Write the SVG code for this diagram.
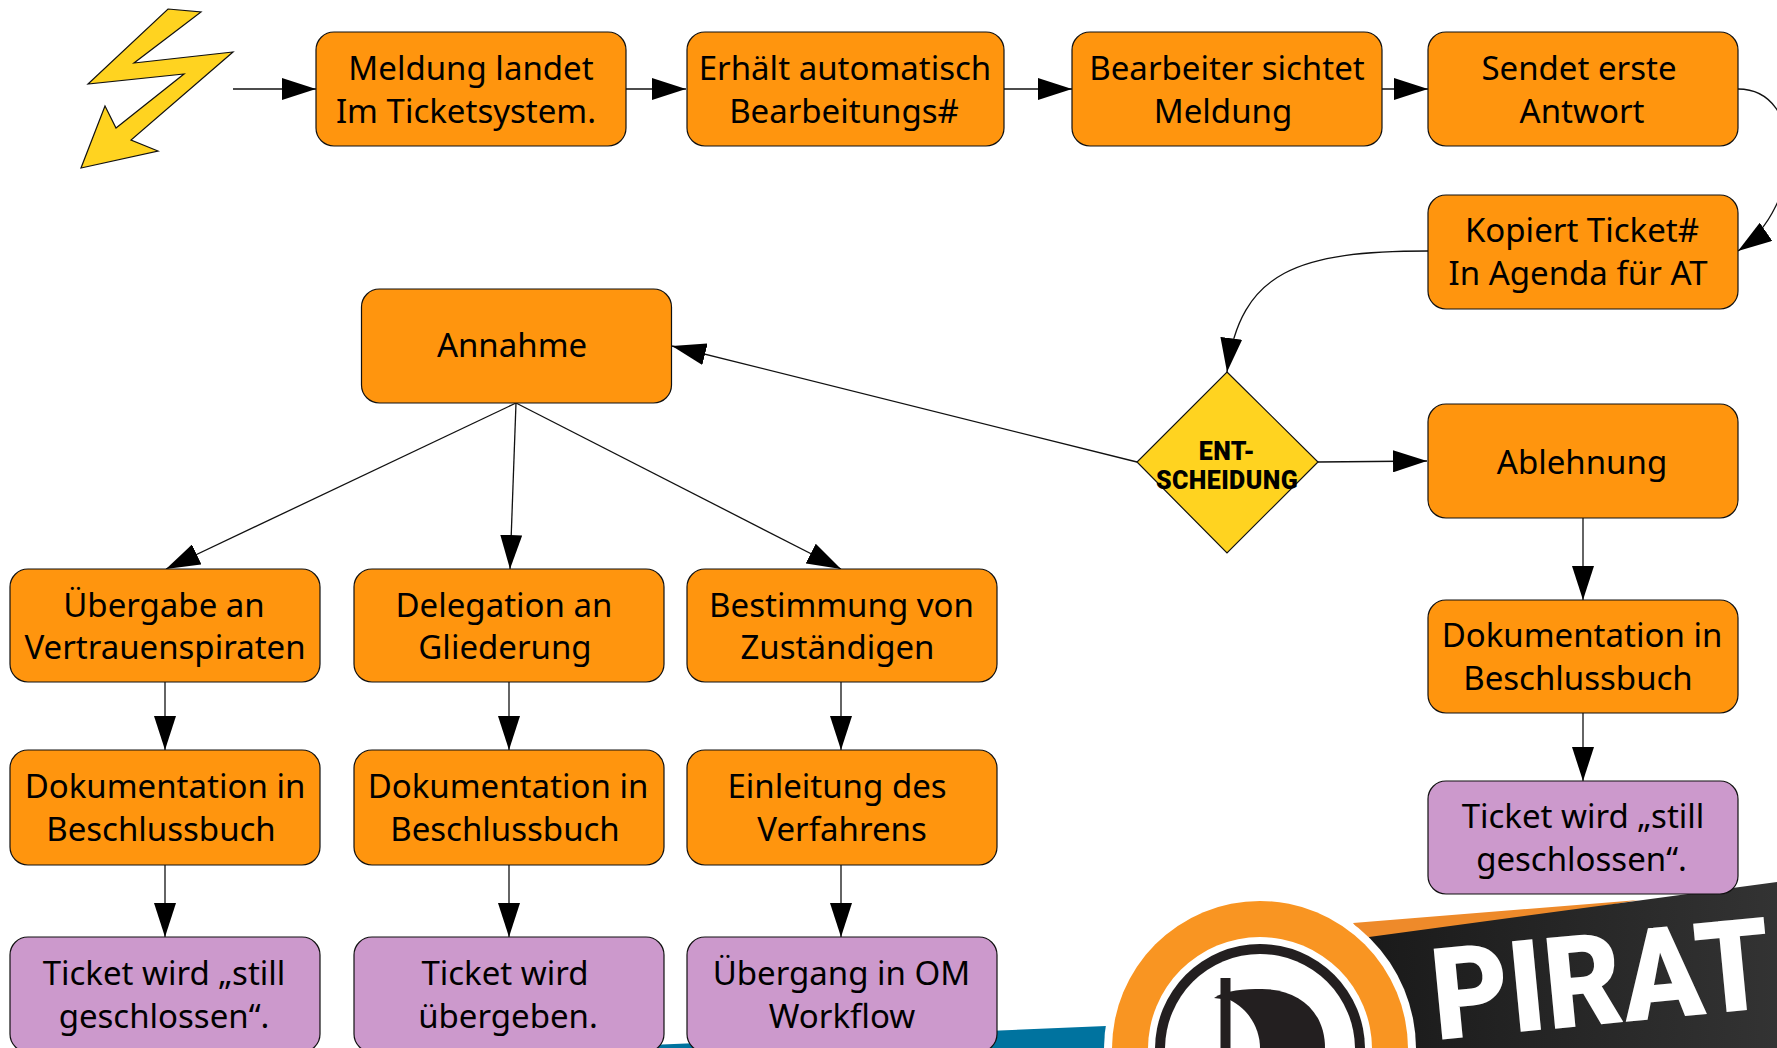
<svg xmlns="http://www.w3.org/2000/svg" width="1777" height="1048" viewBox="0 0 1777 1048">
<style>
.o{fill:#ff950e;stroke:#111;stroke-width:1.2}
.p{fill:#cc99cc;stroke:#111;stroke-width:1.2}
.y{fill:#ffd320;stroke:#111;stroke-width:1.2}
text{font-family:"Noto Sans","Open Sans",sans-serif;font-size:33px;fill:#000;text-anchor:middle}
.d{font-family:"Roboto","Liberation Sans",sans-serif;font-weight:900;font-size:25px;letter-spacing:.4px}
.c{fill:none;stroke:#111;stroke-width:1.3;marker-end:url(#a)}
</style>
<defs>
<marker id="a" markerUnits="userSpaceOnUse" markerWidth="34" markerHeight="22" refX="34" refY="11" orient="auto"><path d="M0 0L34 11L0 22Z" fill="#000"/></marker>
<linearGradient id="b" x1="0" y1="0" x2="1" y2="0"><stop offset="0" stop-color="#1a1a1a"/><stop offset="1" stop-color="#333"/></linearGradient>
</defs>
<rect width="1777" height="1048" fill="#fff"/>
<g id="logo">
<path d="M650 1045L1106 1026V1048H650Z" fill="#00739f"/>
<path d="M1353 923L1639 900L1369 945Z" fill="#ee8a2a"/>
<path d="M1369 937L1777 882V1048H1369Z" fill="url(#b)"/>
<circle cx="1260" cy="1049" r="156" fill="#fff"/>
<circle cx="1260" cy="1049" r="148" fill="#f99522"/>
<circle cx="1260" cy="1049" r="112" fill="#fff"/>
<circle cx="1260" cy="1049" r="105" fill="#231f20"/>
<circle cx="1260" cy="1049" r="95" fill="#fff"/>
<path d="M1214 998C1225 990 1245 989 1262 989C1297 989 1325 1010 1325 1048H1214Z" fill="#231f20"/>
<path d="M1214 998L1230 1000C1250 1010 1260 1030 1260 1048H1214Z" fill="#fff"/>
<rect x="1220.500" y="978" width="10" height="70" fill="#231f20"/>
<text transform="translate(1436 1040) rotate(-5.500)" x="0" y="0" textLength="340" lengthAdjust="spacingAndGlyphs" style="font-family:Roboto,'Liberation Sans',sans-serif;font-weight:900;font-size:128px;fill:#fff;text-anchor:start">PIRAT</text>
</g>
<g id="connectors">
<path class="c" d="M233 89H316"/>
<path class="c" d="M626 89H686"/>
<path class="c" d="M1004 89H1072"/>
<path class="c" d="M1382 89H1428"/>
<path class="c" d="M1738 89C1805 89 1805 205 1738 251"/>
<path class="c" d="M1428 251C1300 251 1240 270 1227 372"/>
<path class="c" d="M1137 462L672 346"/>
<path class="c" d="M1318 462L1427 461"/>
<path class="c" d="M1583 518V600"/>
<path class="c" d="M1583 713V781"/>
<path class="c" d="M516 403L166 569"/>
<path class="c" d="M516 403L510 569"/>
<path class="c" d="M516 403L841 569"/>
<path class="c" d="M165 682V750"/>
<path class="c" d="M509 682V750"/>
<path class="c" d="M841 682V750"/>
<path class="c" d="M165 865V937"/>
<path class="c" d="M509 865V937"/>
<path class="c" d="M841 865V937"/>
</g>
<g id="start"><path class="y" d="M168 9L201 12L134 63L233 52L131 140L158 151L81 168L105 106L116 128L184 74L88 84Z"/></g>
<g id="n1"><rect class="o" x="316" y="32" width="310" height="114" rx="18"/><text x="471" y="80">Meldung landet</text><text x="466" y="123">Im Ticketsystem.</text></g>
<g id="n2"><rect class="o" x="687" y="32" width="317" height="114" rx="18"/><text x="845" y="80">Erhält automatisch</text><text x="844" y="123">Bearbeitungs#</text></g>
<g id="n3"><rect class="o" x="1072" y="32" width="310" height="114" rx="18"/><text x="1227" y="80">Bearbeiter sichtet</text><text x="1223" y="123">Meldung</text></g>
<g id="n4"><rect class="o" x="1428" y="32" width="310" height="114" rx="18"/><text x="1579" y="80">Sendet erste</text><text x="1582" y="123">Antwort</text></g>
<g id="n5"><rect class="o" x="1428" y="195" width="310" height="114" rx="18"/><text x="1582" y="242">Kopiert Ticket#</text><text x="1578" y="285">In Agenda für AT</text></g>
<g id="decision"><path class="y" d="M1227 372L1318 462L1227 553L1137 462Z"/><text class="d" x="1227" y="460">ENT-</text><text class="d" x="1227" y="489">SCHEIDUNG</text></g>
<g id="annahme"><rect class="o" x="361.500" y="289" width="310" height="114" rx="18"/><text x="512" y="357">Annahme</text></g>
<g id="ablehnung"><rect class="o" x="1428" y="404" width="310" height="114" rx="18"/><text x="1582" y="474">Ablehnung</text></g>
<g id="r2a"><rect class="o" x="10" y="569" width="310" height="113" rx="18"/><text x="164" y="617">Übergabe an</text><text x="165" y="659">Vertrauenspiraten</text></g>
<g id="r2b"><rect class="o" x="354" y="569" width="310" height="113" rx="18"/><text x="504" y="617">Delegation an</text><text x="505" y="659">Gliederung</text></g>
<g id="r2c"><rect class="o" x="687" y="569" width="310" height="113" rx="18"/><text x="841.500" y="617">Bestimmung von</text><text x="837.500" y="659">Zuständigen</text></g>
<g id="r3a"><rect class="o" x="10" y="750" width="310" height="115" rx="18"/><text x="165" y="798">Dokumentation in</text><text x="161" y="841">Beschlussbuch</text></g>
<g id="r3b"><rect class="o" x="354" y="750" width="310" height="115" rx="18"/><text x="508" y="798">Dokumentation in</text><text x="505" y="841">Beschlussbuch</text></g>
<g id="r3c"><rect class="o" x="687" y="750" width="310" height="115" rx="18"/><text x="837" y="798">Einleitung des</text><text x="842" y="841">Verfahrens</text></g>
<g id="r4a"><rect class="p" x="10" y="937" width="310" height="115" rx="18"/><text x="164" y="985">Ticket wird „still</text><text x="164" y="1028">geschlossen“.</text></g>
<g id="r4b"><rect class="p" x="354" y="937" width="310" height="115" rx="18"/><text x="505" y="985">Ticket wird</text><text x="508" y="1028">übergeben.</text></g>
<g id="r4c"><rect class="p" x="687" y="937" width="310" height="115" rx="18"/><text x="841.500" y="985">Übergang in OM</text><text x="842" y="1028">Workflow</text></g>
<g id="d1"><rect class="o" x="1428" y="600" width="310" height="113" rx="18"/><text x="1582" y="647">Dokumentation in</text><text x="1578" y="690">Beschlussbuch</text></g>
<g id="t1"><rect class="p" x="1428" y="781" width="310" height="113" rx="18"/><text x="1583" y="828">Ticket wird „still</text><text x="1581.500" y="871">geschlossen“.</text></g>
</svg>
